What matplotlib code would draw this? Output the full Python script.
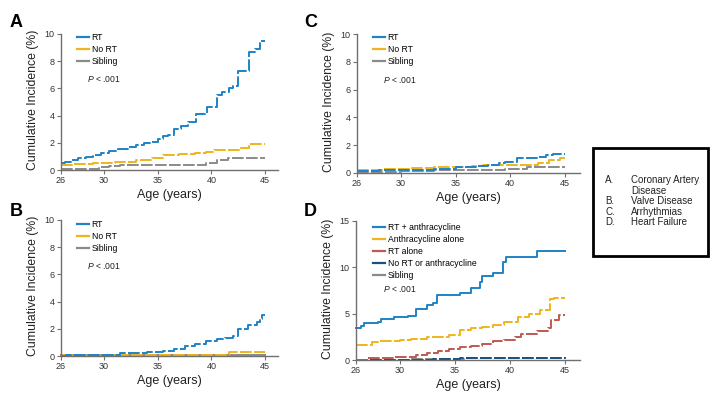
import matplotlib
matplotlib.use("Agg")
import matplotlib.pyplot as plt
from matplotlib.lines import Line2D
from matplotlib.patches import Rectangle

plt.rcParams['font.family'] = ['Liberation Sans', 'DejaVu Sans']
plt.rcParams['mathtext.fontset'] = 'custom'
plt.rcParams['mathtext.it'] = 'Liberation Sans:italic'
plt.rcParams['mathtext.rm'] = 'Liberation Sans'

# --- datos ---
# A: enfermedad coronaria
a_rt_x = [26, 26.4, 27.0, 27.6, 28.3, 29.0, 29.7, 30.5, 31.3, 32.2, 33.0, 33.7, 34.3, 35.0, 35.5,
          36.0, 36.5, 37.2, 37.8, 38.6, 39.6, 40.5, 41.0, 41.6, 42.0, 42.5, 43.5, 44.1, 44.5, 45]
a_rt_y = [0.5, 0.6, 0.75, 0.85, 0.95, 1.1, 1.25, 1.4, 1.55, 1.7, 1.85, 2.0, 2.05, 2.25, 2.5,
          2.6, 3.05, 3.2, 3.5, 4.1, 4.6, 5.5, 5.7, 6.0, 6.2, 7.3, 8.7, 8.9, 9.5, 9.5]
a_nort_x = [26, 27.0, 29.0, 31.0, 33.0, 34.5, 35.5, 37.0, 38.5, 39.5, 40.2, 41.5, 42.8, 43.5, 45]
a_nort_y = [0.35, 0.45, 0.5, 0.6, 0.7, 0.85, 1.1, 1.15, 1.25, 1.35, 1.45, 1.5, 1.6, 1.9, 1.9]
a_sib_x = [26, 29.5, 30.5, 31.5, 39.5, 40.5, 41.5, 45]
a_sib_y = [0.1, 0.2, 0.3, 0.4, 0.5, 0.7, 0.9, 0.9]

# B: valvulopatia
b_rt_x = [26, 26.5, 28.0, 31.0, 31.5, 33.5, 34.0, 35.5, 36.5, 37.5, 38.5, 39.5, 40.5, 41.3,
          42.0, 42.5, 43.4, 44.2, 44.5, 44.7, 45]
b_rt_y = [0.0, 0.05, 0.08, 0.1, 0.2, 0.25, 0.3, 0.4, 0.5, 0.7, 0.9, 1.1, 1.25, 1.35,
          1.5, 2.0, 2.3, 2.5, 2.7, 3.05, 3.05]
b_nort_x = [26, 41.6, 45]
b_nort_y = [0.05, 0.3, 0.3]
b_sib_x = [26, 33.0, 45]
b_sib_y = [0.05, 0.1, 0.1]

# C: arritmias
c_rt_x = [26, 28.0, 30.0, 33.0, 35.0, 37.0, 38.0, 39.0, 39.5, 40.6, 42.5, 43.3, 43.9, 45]
c_rt_y = [0.15, 0.2, 0.25, 0.3, 0.4, 0.5, 0.6, 0.7, 0.8, 1.1, 1.15, 1.3, 1.4, 1.4]
c_nort_x = [26, 28.3, 31.0, 33.0, 35.5, 36.5, 37.5, 42.5, 43.5, 44.5, 45]
c_nort_y = [0.25, 0.3, 0.35, 0.4, 0.45, 0.5, 0.55, 0.7, 0.9, 1.1, 1.1]
c_sib_x = [26, 30.0, 33.0, 39.5, 41.5, 45]
c_sib_y = [0.1, 0.15, 0.2, 0.3, 0.4, 0.4]

# D: insuficiencia cardiaca
d_rta_x = [26, 26.5, 26.7, 28.0, 28.3, 29.5, 30.7, 31.5, 32.5, 33.0, 33.4, 35.5, 36.5, 37.3,
           37.5, 38.5, 39.4, 39.6, 42.5, 45]
d_rta_y = [3.5, 3.7, 4.0, 4.15, 4.4, 4.6, 4.8, 5.5, 5.9, 6.2, 7.0, 7.2, 7.8, 8.4,
           9.1, 9.4, 10.6, 11.1, 11.8, 11.8]
d_anth_x = [26, 27.5, 28.0, 30.0, 31.0, 32.5, 34.5, 35.5, 36.5, 37.5, 38.5, 39.5, 40.7, 41.7,
            42.7, 43.6, 44.0, 45]
d_anth_y = [1.6, 1.9, 2.1, 2.2, 2.3, 2.5, 2.7, 3.2, 3.4, 3.6, 3.8, 4.1, 4.6, 5.0,
            5.4, 6.6, 6.7, 6.7]
d_rtal_x = [26, 27.0, 29.5, 31.5, 32.5, 33.5, 34.5, 35.5, 36.5, 37.5, 38.5, 39.5, 40.5, 41.0,
            42.5, 43.5, 43.7, 44.5, 45]
d_rtal_y = [0.05, 0.2, 0.3, 0.5, 0.8, 1.0, 1.2, 1.4, 1.55, 1.7, 2.0, 2.2, 2.5, 2.8,
            3.1, 3.5, 4.3, 4.9, 4.9]
d_none_x = [26, 33.0, 35.5, 37.0, 45]
d_none_y = [0.05, 0.1, 0.2, 0.25, 0.3]
d_sib_x = [26, 31.0, 36.0, 45]
d_sib_y = [0.05, 0.1, 0.25, 0.3]

azul = '#1f83c6'
amarillo = '#efb41e'
gris = '#8a8a8a'
rojo = '#bf5a52'
marino = '#1d4f7c'

W, H = 710, 396
fig = plt.figure(figsize=(W / 100, H / 100), dpi=100)


def caja(l, t, r, b):
    return [l / W, 1 - b / H, (r - l) / W, (b - t) / H]


def preparar(ax, xmax, ymax, yticks):
    ax.set_xlim(26, xmax)
    ax.set_ylim(0, ymax)
    for s in ['top', 'right']:
        ax.spines[s].set_visible(False)
    for s in ['left', 'bottom']:
        ax.spines[s].set_color('#707070')
        ax.spines[s].set_linewidth(1.0)
    ax.spines['left'].set_bounds(0, yticks[-1])
    ax.set_xticks([26, 30, 35, 40, 45])
    ax.set_yticks(yticks)
    ax.tick_params(colors='#707070', labelcolor='#333333', labelsize=6.5, length=3, width=0.8, pad=1.5)
    ax.set_xlabel('Age (years)', fontsize=9, color='#222222', labelpad=3)
    ax.set_ylabel('Cumulative Incidence (%)', fontsize=8.8, color='#222222', labelpad=4)


def escalon(ax, x, y, color, dashed=True):
    ln, = ax.step(x, y, where='post', color=color, lw=1.4, clip_on=False)
    if dashed:
        ln.set_dashes([6, 1.2])


def leyenda(ax, etiquetas, colores, x0, y0, py):
    hs = [Line2D([], [], color=c, lw=1.6) for c in colores]
    ax.legend(hs, etiquetas, loc='upper left', bbox_to_anchor=(x0 / W, 1 - y0 / H),
              bbox_transform=fig.transFigure, frameon=False, fontsize=6.2, handlelength=1.4,
              handletextpad=0.3, labelspacing=0.35, borderpad=0, borderaxespad=0)
    fig.text((x0 + 10) / W, 1 - py / H, r'$P$ < .001', fontsize=6.2, color='#222222', va='center')


tres = ['RT', 'No RT', 'Sibling']

axA = fig.add_axes(caja(61, 30, 278, 170))
preparar(axA, 46.2, 10.29, [0, 2, 4, 6, 8, 10])
escalon(axA, a_sib_x, a_sib_y, gris)
escalon(axA, a_nort_x, a_nort_y, amarillo)
escalon(axA, a_rt_x, a_rt_y, azul)
leyenda(axA, tres, [azul, amarillo, gris], 77, 33, 79)

axB = fig.add_axes(caja(61, 216, 278, 356))
preparar(axB, 46.2, 10.29, [0, 2, 4, 6, 8, 10])
escalon(axB, b_sib_x, b_sib_y, gris, dashed=False)
escalon(axB, b_nort_x, b_nort_y, amarillo)
escalon(axB, b_rt_x, b_rt_y, azul)
leyenda(axB, tres, [azul, amarillo, gris], 77, 220, 266)

axC = fig.add_axes(caja(357, 30, 580, 173))
preparar(axC, 46.37, 10.29, [0, 2, 4, 6, 8, 10])
escalon(axC, c_sib_x, c_sib_y, gris)
escalon(axC, c_nort_x, c_nort_y, amarillo)
escalon(axC, c_rt_x, c_rt_y, azul)
leyenda(axC, tres, [azul, amarillo, gris], 373, 33, 80)

axD = fig.add_axes(caja(356, 217, 580, 360))
preparar(axD, 46.37, 15.43, [0, 5, 10, 15])
escalon(axD, d_sib_x, d_sib_y, gris)
escalon(axD, d_none_x, d_none_y, marino)
escalon(axD, d_rtal_x, d_rtal_y, rojo)
escalon(axD, d_anth_x, d_anth_y, amarillo)
escalon(axD, d_rta_x, d_rta_y, azul, dashed=False)
leyenda(axD, ['RT + anthracycline', 'Anthracycline alone', 'RT alone',
              'No RT or anthracycline', 'Sibling'],
        [azul, amarillo, rojo, marino, gris], 373, 223, 289)

for letra, x, y in [('A', 10, 27), ('C', 304, 27), ('B', 10, 216), ('D', 304, 216)]:
    fig.text(x / W, 1 - y / H, letra, fontsize=13, fontweight='bold', va='baseline')

# recuadro con la clave de paneles
fig.patches.append(Rectangle((593 / W, 1 - 256 / H), 115 / W, 108 / H, transform=fig.transFigure,
                             fill=False, edgecolor='black', lw=2))
clave = [('A.', 'Coronary Artery'), ('', 'Disease'), ('B.', 'Valve Disease'),
         ('C.', 'Arrhythmias'), ('D.', 'Heart Failure')]
for i, (l, t) in enumerate(clave):
    yy = 1 - (180 + i * 10.6) / H
    fig.text(605 / W, yy, l, fontsize=7, color='#222222', va='center')
    fig.text(631 / W, yy, t, fontsize=7, color='#222222', va='center')

fig.savefig('out.png', dpi=100)
